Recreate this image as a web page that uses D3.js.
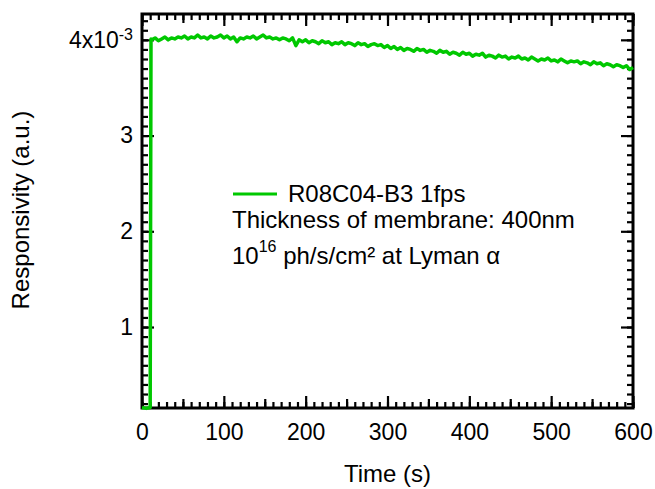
<!DOCTYPE html>
<html>
<head>
<meta charset="utf-8">
<script src="https://cdn.jsdelivr.net/npm/d3@7"></script>
<style>
  body { margin: 0; background: #fff; }
  text { font-family: "Liberation Sans", Arial, sans-serif; fill: #000; }
</style>
</head>
<body>
<div id="viz"></div>
<script>

/*##############################
#       Data (x10^-3)          #
###############################*/

var times = [0, 5, 10, 11,
    12, 16, 20, 24, 28, 32, 36, 40, 44, 48,
    52, 56, 60, 64, 68, 72, 76, 80, 84, 88,
    92, 96, 100, 104, 108, 112, 116, 120, 124, 128,
    132, 136, 140, 144, 148, 152, 156, 160, 164, 168,
    172, 176, 180, 184, 188, 192, 196, 200, 204, 208,
    212, 216, 220, 224, 228, 232, 236, 240, 244, 248,
    252, 256, 260, 264, 268, 272, 276, 280, 284, 288,
    292, 296, 300, 304, 308, 312, 316, 320, 324, 328,
    332, 336, 340, 344, 348, 352, 356, 360, 364, 368,
    372, 376, 380, 384, 388, 392, 396, 400, 404, 408,
    412, 416, 420, 424, 428, 432, 436, 440, 444, 448,
    452, 456, 460, 464, 468, 472, 476, 480, 484, 488,
    492, 496, 500, 504, 508, 512, 516, 520, 524, 528,
    532, 536, 540, 544, 548, 552, 556, 560, 564, 568,
    572, 576, 580, 584, 588, 592, 596, 600];

var responsivity = [0.16, 0.15, 0.16, 4.01,
    4.00, 4.02, 3.99, 4.01, 4.03, 4.00, 4.02, 4.01, 4.03, 4.02,
    4.04, 4.01, 4.03, 4.02, 4.05, 4.02, 4.03, 4.01, 4.04, 4.02,
    4.03, 4.05, 4.02, 4.04, 4.01, 4.03, 3.98, 4.02, 4.01, 4.03,
    4.02, 4.04, 4.01, 4.03, 4.05, 4.02, 4.03, 4.01, 4.02, 4.00,
    4.02, 4.01, 3.99, 4.02, 3.94, 4.00, 3.98, 4.00, 3.97, 3.99,
    3.98, 3.96, 3.99, 3.97, 3.98, 3.95, 3.97, 3.96, 3.98, 3.95,
    3.97, 3.96, 3.94, 3.97, 3.95, 3.96, 3.93, 3.95, 3.96, 3.94,
    3.95, 3.92, 3.94, 3.91, 3.93, 3.90, 3.92, 3.89, 3.91, 3.90,
    3.88, 3.91, 3.89, 3.90, 3.87, 3.89, 3.88, 3.86, 3.89, 3.87,
    3.88, 3.85, 3.87, 3.86, 3.84, 3.87, 3.85, 3.86, 3.83, 3.85,
    3.84, 3.86, 3.82, 3.84, 3.83, 3.81, 3.84, 3.82, 3.83, 3.80,
    3.82, 3.81, 3.83, 3.80, 3.81, 3.79, 3.82, 3.80, 3.78, 3.80,
    3.79, 3.81, 3.78, 3.79, 3.77, 3.80, 3.78, 3.76, 3.78, 3.77,
    3.78, 3.75, 3.77, 3.76, 3.74, 3.77, 3.75, 3.76, 3.73, 3.75,
    3.74, 3.72, 3.74, 3.73, 3.71, 3.73, 3.69, 3.71];

var xTickLabels = [0, 100, 200, 300, 400, 500, 600];
var yTickLabels = [1, 2, 3, 4];
var seriesName = "R08C04-B3 1fps";

/*##############################
#       Layout                 #
###############################*/

var W = 655, H = 489;
var box = {left: 142, right: 633, top: 14, bottom: 408};
var green = "rgb(0,200,0)";
var fs = 23, fsLabel = 24;

var svg = d3.select("#viz").append("svg")
    .attr("width", W)
    .attr("height", H);

var x = d3.scaleLinear().domain([0, 600]).range([box.left, box.right]);
var y = d3.scaleLinear().domain([0.154, 4.27]).range([box.bottom, box.top]);

// tick sets: minor / medium / major
var xMinor = d3.range(0, 601, 10),
    xMid = d3.range(50, 600, 100),
    yMinor = d3.range(2, 43).map(function(d) { return d / 10; });

function styleAxis(g) {
    g.select(".domain").remove();
    g.selectAll(".tick line").attr("stroke", "#000").attr("stroke-width", 2.2);
    g.selectAll(".tick text").attr("font-size", fs).attr("font-family", "Liberation Sans, Arial, sans-serif");
}

// bottom + top axes (ticks point inward)
svg.append("g").attr("transform", "translate(0," + box.bottom + ")")
    .call(d3.axisBottom(x).tickValues(xMinor).tickSize(-6).tickFormat(""))
    .call(styleAxis);
svg.append("g").attr("transform", "translate(0," + box.bottom + ")")
    .call(d3.axisBottom(x).tickValues(xMid).tickSize(-9).tickFormat(""))
    .call(styleAxis);
svg.append("g").attr("transform", "translate(0," + box.bottom + ")")
    .call(d3.axisBottom(x).tickValues(xTickLabels).tickSize(-12).tickPadding(16))
    .call(styleAxis);

svg.append("g").attr("transform", "translate(0," + box.top + ")")
    .call(d3.axisTop(x).tickValues(xMinor).tickSize(-6).tickFormat(""))
    .call(styleAxis);
svg.append("g").attr("transform", "translate(0," + box.top + ")")
    .call(d3.axisTop(x).tickValues(xMid).tickSize(-9).tickFormat(""))
    .call(styleAxis);
svg.append("g").attr("transform", "translate(0," + box.top + ")")
    .call(d3.axisTop(x).tickValues(xTickLabels).tickSize(-12).tickFormat(""))
    .call(styleAxis);

// left + right axes
svg.append("g").attr("transform", "translate(" + box.left + ",0)")
    .call(d3.axisLeft(y).tickValues(yMinor).tickSize(-6).tickFormat(""))
    .call(styleAxis);
var yAxisG = svg.append("g").attr("transform", "translate(" + box.left + ",0)")
    .call(d3.axisLeft(y).tickValues(yTickLabels).tickSize(-12).tickPadding(9).tickFormat(d3.format("d")))
    .call(styleAxis);

svg.append("g").attr("transform", "translate(" + box.right + ",0)")
    .call(d3.axisRight(y).tickValues(yMinor).tickSize(-6).tickFormat(""))
    .call(styleAxis);
svg.append("g").attr("transform", "translate(" + box.right + ",0)")
    .call(d3.axisRight(y).tickValues(yTickLabels).tickSize(-12).tickFormat(""))
    .call(styleAxis);

// top label gets the 10^-3 multiplier
yAxisG.selectAll(".tick text")
    .filter(function(d) { return d === 4; })
    .text(null)
    .call(function(t) {
        t.append("tspan").text("4x10");
        t.append("tspan").attr("dy", "-0.5em").attr("font-size", 16).text("-3");
    });

// plot frame
svg.append("rect")
    .attr("x", box.left)
    .attr("y", box.top)
    .attr("width", box.right - box.left)
    .attr("height", box.bottom - box.top)
    .attr("fill", "none")
    .attr("stroke", "#000")
    .attr("stroke-width", 3);

/*##############################
#       Series                 #
###############################*/

var points = times.map(function(t, i) { return [t, responsivity[i]]; });

svg.append("path")
    .datum(points)
    .attr("fill", "none")
    .attr("stroke", green)
    .attr("stroke-width", 3.5)
    .attr("stroke-linejoin", "round")
    .attr("d", d3.line()
        .x(function(d) { return x(d[0]); })
        .y(function(d) { return y(d[1]); }));

/*##############################
#       Labels + legend        #
###############################*/

svg.append("text")
    .attr("x", (box.left + box.right) / 2)
    .attr("y", 482)
    .attr("text-anchor", "middle")
    .attr("font-size", fsLabel)
    .text("Time (s)");

svg.append("text")
    .attr("transform", "translate(29," + 210 + ") rotate(-90)")
    .attr("text-anchor", "middle")
    .attr("font-size", fsLabel)
    .text("Responsivity (a.u.)");

svg.append("line")
    .attr("x1", 233).attr("x2", 277)
    .attr("y1", 194).attr("y2", 194)
    .attr("stroke", green)
    .attr("stroke-width", 3);

svg.append("text")
    .attr("x", 288).attr("y", 202)
    .attr("font-size", fsLabel)
    .text(seriesName);

svg.append("text")
    .attr("x", 232).attr("y", 228)
    .attr("font-size", fsLabel)
    .text("Thickness of membrane: 400nm");

var flux = svg.append("text")
    .attr("x", 232).attr("y", 264)
    .attr("font-size", fsLabel);
flux.append("tspan").text("10");
flux.append("tspan").attr("dy", -12).attr("font-size", 16).text("16");
flux.append("tspan").attr("dy", 12).text(" ph/s/cm\u00B2 at Lyman \u03B1");

</script>
</body>
</html>
